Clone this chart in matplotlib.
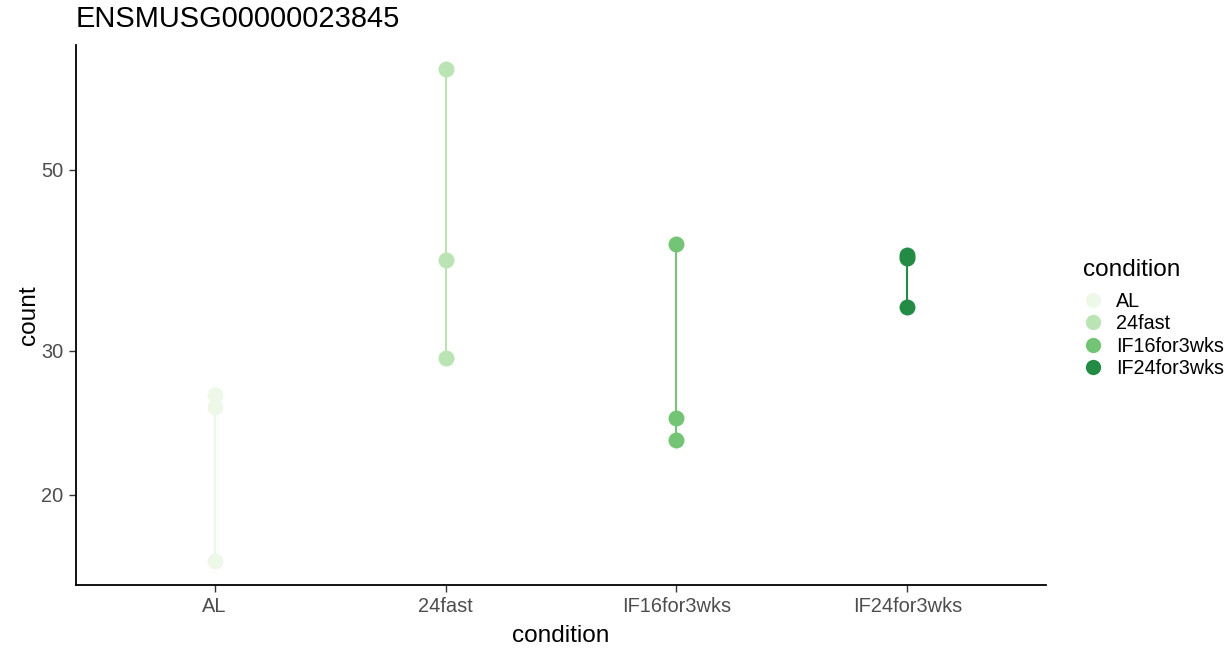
import numpy as np
import matplotlib.pyplot as plt
from matplotlib.lines import Line2D

plt.rcParams['font.family'] = ['Liberation Sans', 'DejaVu Sans']

# 조건별 count 값
conditions = ['AL', '24fast', 'IF16for3wks', 'IF24for3wks']
al_counts = [26.5, 25.6, 16.6]
fast24_counts = [66.4, 38.8, 29.4]
if16_counts = [40.6, 24.8, 23.3]
if24_counts = [39.3, 39.0, 34.0]
colors = ['#EDF8E9', '#BAE4B3', '#74C476', '#238B45']

groups = [al_counts, fast24_counts, if16_counts, if24_counts]

fig = plt.figure(figsize=(12.25, 6.48), dpi=100)
ax = fig.add_axes([76 / 1225, 63 / 648, 970 / 1225, 540 / 648])

for i, (vals, c) in enumerate(zip(groups, colors)):
    x = np.full(len(vals), i + 1)
    ax.plot([i + 1, i + 1], [min(vals), max(vals)], color=c, lw=1.5, zorder=1)
    ax.plot(x, vals, 'o', color=c, markersize=11.5, markeredgewidth=0, zorder=2)

ax.set_yscale('log')
ax.set_ylim(15.5, 71.1)
ax.set_xlim(0.4, 4.6)
ax.set_yticks([20, 30, 50])
ax.set_yticklabels(['20', '30', '50'])
ax.yaxis.set_minor_locator(plt.NullLocator())
ax.set_xticks([1, 2, 3, 4])
ax.set_xticklabels(conditions)

ax.tick_params(axis='both', colors='#333333', labelcolor='#4D4D4D',
               labelsize=14.4, length=5, width=1, pad=4)
for s in ['top', 'right']:
    ax.spines[s].set_visible(False)
for s in ['left', 'bottom']:
    ax.spines[s].set_linewidth(1.3)
    ax.spines[s].set_color('black')

ax.set_xlabel('condition', fontsize=17.6, labelpad=6)
ax.set_ylabel('count', fontsize=17.6, labelpad=1)
fig.text(76 / 1225, 1 - 19 / 648, 'ENSMUSG00000023845', fontsize=20.9,
         ha='left', va='center')

# 범례 제목은 따로 텍스트로
fig.text(1083 / 1225, 1 - 270 / 648, 'condition', fontsize=17.6,
         ha='left', va='center')
handles = [Line2D([], [], marker='o', ls='', color=c, markersize=11,
                  markeredgewidth=0) for c in colors]
leg = fig.legend(handles, conditions, loc='upper left',
                 bbox_to_anchor=(1085 / 1225, 1 - 292 / 648), frameon=False,
                 fontsize=14.2, handletextpad=0.77,
                 labelspacing=0.17, handlelength=0.8, borderaxespad=0,
                 borderpad=0)

fig.savefig('out.png', dpi=100)
